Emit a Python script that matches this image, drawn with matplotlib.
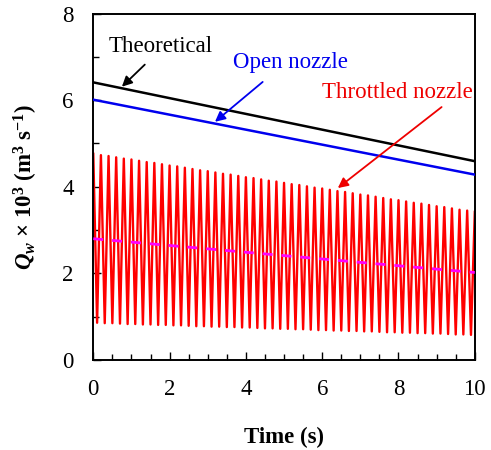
import numpy as np
import matplotlib
matplotlib.use("Agg")
import matplotlib.pyplot as plt
from matplotlib.ticker import MultipleLocator

plt.rcParams['font.family'] = ['Liberation Serif', 'DejaVu Serif']
plt.rcParams['mathtext.fontset'] = 'custom'
plt.rcParams['mathtext.rm'] = 'Liberation Serif'
plt.rcParams['mathtext.it'] = 'Liberation Serif:italic'
plt.rcParams['mathtext.bf'] = 'Liberation Serif:bold'
plt.rcParams['mathtext.bfit'] = 'Liberation Serif:italic:bold'

# Straight-line flow rates (start, end) over 0-10 s
time_ends = [0.0, 10.0]
theoretical = [6.41, 4.59]
open_nozzle = [6.01, 4.28]
throttled_mean = [2.80, 2.02]

# Throttled nozzle: oscillation peaks (every 0.2 s from 0 s) and troughs (every 0.2 s from 0.1 s)
throttled_peaks = [4.76, 4.73, 4.71, 4.68, 4.65, 4.63, 4.60, 4.57, 4.55, 4.52,
                   4.49, 4.47, 4.44, 4.41, 4.38, 4.36, 4.33, 4.30, 4.28, 4.25,
                   4.22, 4.20, 4.17, 4.14, 4.12, 4.09, 4.06, 4.04, 4.01, 3.98,
                   3.96, 3.93, 3.90, 3.88, 3.85, 3.82, 3.80, 3.77, 3.74, 3.71,
                   3.69, 3.66, 3.63, 3.61, 3.58, 3.55, 3.53, 3.50, 3.47, 3.45,
                   3.42]
throttled_troughs = [0.86, 0.85, 0.85, 0.84, 0.83, 0.83, 0.82, 0.82, 0.81, 0.81,
                     0.80, 0.80, 0.79, 0.78, 0.78, 0.77, 0.77, 0.76, 0.76, 0.75,
                     0.75, 0.74, 0.73, 0.73, 0.72, 0.72, 0.71, 0.71, 0.70, 0.69,
                     0.69, 0.68, 0.68, 0.67, 0.67, 0.66, 0.66, 0.65, 0.64, 0.64,
                     0.63, 0.63, 0.62, 0.62, 0.61, 0.61, 0.60, 0.59, 0.59, 0.58]
half_period = 0.1

# interleave peaks and troughs into one signal
n = len(throttled_peaks) + len(throttled_troughs)
t_sig = np.arange(n) * half_period
q_sig = np.empty(n)
q_sig[0::2] = throttled_peaks
q_sig[1::2] = throttled_troughs

fig = plt.figure(figsize=(4.91, 4.5), dpi=100)
ax = fig.add_axes([0.190, 0.200, 0.777, 0.770])

ax.plot(t_sig, q_sig, color='#ff0000', lw=1.7, zorder=2)
ax.plot(time_ends, throttled_mean, color='#ff00ff', lw=2.0,
        linestyle=(0, (3.6, 3.2)), zorder=3)
ax.plot(time_ends, theoretical, color='black', lw=1.8, zorder=3)
ax.plot(time_ends, open_nozzle, color='#0000ee', lw=1.8, zorder=3)

ax.set_xlim(0, 10)
ax.set_ylim(0, 8)
ax.xaxis.set_major_locator(MultipleLocator(2))
ax.xaxis.set_minor_locator(MultipleLocator(0.5))
ax.yaxis.set_major_locator(MultipleLocator(2))
ax.yaxis.set_minor_locator(MultipleLocator(1))
ax.tick_params(which='both', direction='in', labelsize=16.5, pad=14, width=1.0)
ax.tick_params(which='major', length=6)
ax.tick_params(which='minor', length=4)
for s in ax.spines.values():
    s.set_linewidth(1.4)

ax.set_xlabel('Time (s)', fontsize=16.5, fontweight='bold', labelpad=19)
ax.set_ylabel(r'$\mathbfit{Q}_{\mathbfit{w}}$ $\mathbf{\times}$ $\mathbf{10^{3}}$ $\mathbf{(m^{3}\ s^{-1})}$',
              fontsize=16.5, labelpad=16)

# labels with their pointer arrows (arrow tail, arrow head)
labels = [
    ('Theoretical', (1.77, 7.24), (1.35, 6.82), (0.75, 6.31), 'black'),
    ('Open nozzle', (5.18, 6.87), (4.44, 6.42), (3.19, 5.50), '#0000ee'),
    ('Throttled nozzle', (7.96, 6.17), (9.13, 5.84), (6.41, 3.97), '#ee0000'),
]
for text, pos, tail, head, col in labels:
    ax.text(pos[0], pos[1], text, fontsize=16.5, color=col,
            ha='center', va='center')
    ax.annotate('', xy=head, xytext=tail,
                arrowprops=dict(arrowstyle='-|>', color=col, lw=1.3,
                                mutation_scale=15, shrinkA=0, shrinkB=0))

fig.savefig('out.png', dpi=100)
